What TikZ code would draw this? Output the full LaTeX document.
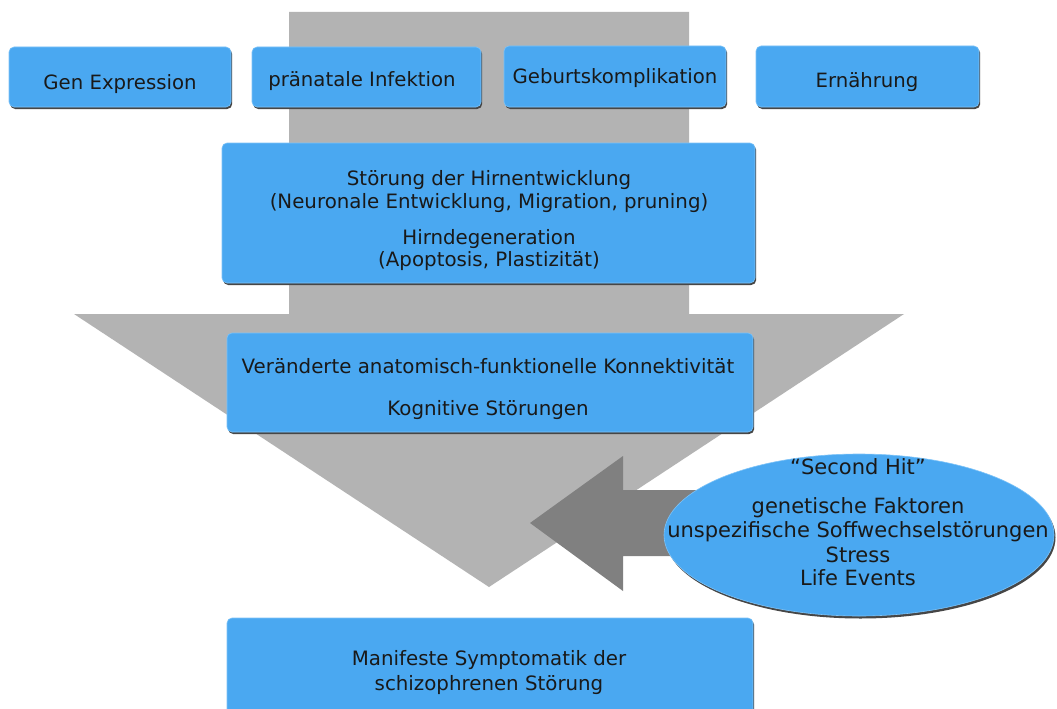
\documentclass[tikz,border=0pt]{standalone}
\usepackage{fontspec}
\setmainfont{DejaVu Sans}
\usetikzlibrary{shapes.geometric,shadows}
\definecolor{boxblue}{RGB}{74,168,241}
\definecolor{lightgr}{RGB}{179,179,179}
\definecolor{darkgr}{RGB}{128,128,128}
\definecolor{edgeblue}{RGB}{125,195,248}
\definecolor{shadowgr}{RGB}{70,70,70}
\begin{document}
\begin{tikzpicture}[x=1pt,y=-1pt,
  box/.style={rectangle, rounded corners=5pt, fill=boxblue, draw=edgeblue, line width=0.6pt,
    general shadow={fill=shadowgr, shadow xshift=1.2pt, shadow yshift=-2pt}, inner sep=0pt},
  oval/.style={ellipse, fill=boxblue, draw=edgeblue, line width=0.6pt,
    general shadow={fill=shadowgr, shadow xshift=1.5pt, shadow yshift=-2.5pt}, inner sep=0pt},
  tt/.style={anchor=base, inner sep=0pt, text=black!90, font=\fontsize{19.7}{24}\selectfont},
  tm/.style={anchor=base, inner sep=0pt, text=black!90, font=\fontsize{19.8}{24}\selectfont},
  te/.style={anchor=base, inner sep=0pt, text=black!90, font=\fontsize{21}{25}\selectfont}
]
\useasboundingbox (0,0) rectangle (1057,709);
\fill[white] (0,0) rectangle (1057,709);
% big grey arrow
\fill[lightgr] (289,12) -- (689,12) -- (689,314) -- (904,314) -- (489,587) -- (74,314) -- (289,314) -- cycle;
% dark grey arrow
\fill[darkgr] (530,523) -- (623,456) -- (623,490) -- (720,490) -- (720,556) -- (623,556) -- (623,591) -- cycle;
% top boxes
\node[box, minimum width=222pt, minimum height=60pt] (gen) at (120,77) {};
\node[box, minimum width=229pt, minimum height=60pt] (pra) at (366.5,77) {};
\node[box, minimum width=222pt, minimum height=61pt] (geb) at (615,76.5) {};
\node[box, minimum width=223pt, minimum height=61pt] (ern) at (867.5,76.5) {};
\node[tt] (tgen) at (120,89) {Gen Expression};
\node[tt] (tpra) at (362,86) {pränatale Infektion};
\node[tt] (tgeb) at (615,84) {Geburtskomplikation};
\node[tt] (tern) at (867,87) {Ernährung};
% middle boxes
\node[box, minimum width=533pt, minimum height=140pt] (hirn) at (488.5,213) {};
\node[tm] (h1) at (489,185) {Störung der Hirnentwicklung};
\node[tm] (h2) at (489,208) {(Neuronale Entwicklung, Migration, pruning)};
\node[tm] (h3) at (489,244) {Hirndegeneration};
\node[tm] (h4) at (489,266) {(Apoptosis, Plastizität)};
\node[box, minimum width=526pt, minimum height=99pt] (kon) at (490,382.5) {};
\node[tm] (k1) at (488,373) {Veränderte anatomisch-funktionelle Konnektivität};
\node[tm] (k2) at (488,415) {Kognitive Störungen};
\node[box, minimum width=526pt, minimum height=120pt] (man) at (490,678) {};
\node[tm] (m1) at (489,665) {Manifeste Symptomatik der};
\node[tm] (m2) at (489,690) {schizophrenen Störung};
% second hit ellipse
\node[oval, minimum width=390pt, minimum height=162pt] (hit) at (859,535) {};
\node[te] (s1) at (858,474) {“Second Hit”};
\node[te] (s2) at (858,513) {genetische Faktoren};
\node[te] (s3) at (858,537) {unspezifische Soffwechselstörungen};
\node[te] (s4) at (858,562) {Stress};
\node[te] (s5) at (858,585) {Life Events};
\end{tikzpicture}
\end{document}
